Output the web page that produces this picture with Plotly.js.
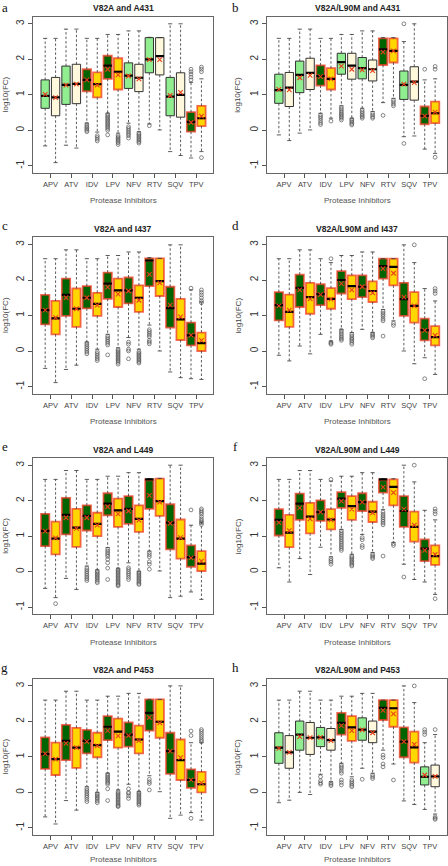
<!DOCTYPE html>
<html><head><meta charset="utf-8">
<script src="https://cdn.plot.ly/plotly-3.0.1.min.js"></script>
<style>html,body{margin:0;padding:0;background:#fff}#chart{width:448px;height:866px}</style>
</head><body><div id="chart"></div>
<script>
// ---------------- DATA ----------------
const drugs = ['APV','ATV','IDV','LPV','NFV','RTV','SQV','TPV'];
const panelLetters = ['a','b','c','d','e','f','g','h'];
const panelTitles = ['V82A and A431','V82A/L90M and A431','V82A and I437','V82A/L90M and I437',
                     'V82A and L449','V82A/L90M and L449','V82A and P453','V82A/L90M and P453'];
// 1 = significant (dark green / gold with red border), 0 = light green / cornsilk
const signif = [
  [0,0,1,1,0,0,0,1],
  [0,0,1,0,0,1,0,1],
  [1,1,1,1,1,1,1,1],
  [1,1,1,1,1,1,1,1],
  [1,1,1,1,1,1,1,1],
  [1,1,1,1,1,1,1,1],
  [1,1,1,1,1,1,1,1],
  [0,0,0,1,0,1,1,0]
];
// 16 boxes per panel: APV(1,2), ATV(1,2), ... TPV(1,2)
const lowerWhisker = [
  [-0.44,-0.91,-0.42,-0.50,0.20,-0.05,0.48,-0.08,0.20,-0.04,0.18,0.01,-0.60,-0.71,-0.78,-0.60],
  [-0.13,-0.29,-0.08,0.01,0.48,0.34,0.69,0.34,0.62,0.53,0.78,0.90,-0.18,-0.16,-0.53,-0.65],
  [-0.49,-0.89,-0.52,-0.40,0.25,0.05,0.47,0.09,0.38,0.05,0.73,0.00,-0.59,-0.75,-0.78,-0.80],
  [-0.12,-0.28,0.14,-0.08,0.47,0.28,0.61,0.52,0.61,0.52,1.17,0.85,0.00,-0.36,-0.19,-0.66],
  [-0.47,-0.73,-0.19,-0.50,0.16,0.05,0.68,0.08,0.25,0.00,0.58,0.02,-0.73,-0.69,-0.57,-0.78],
  [0.11,-0.29,0.37,-0.08,0.69,0.42,1.19,0.49,1.05,0.54,1.75,0.82,0.21,-0.22,-0.29,-0.64],
  [-0.69,-0.89,-0.23,-0.50,0.16,0.00,0.54,0.07,0.23,0.02,0.47,0.02,-0.73,-0.64,-0.57,-0.78],
  [-0.29,-0.22,0.00,-0.06,0.51,0.30,0.82,0.44,0.68,0.54,1.19,0.80,-0.24,-0.34,-0.48,-0.61]
];
const q1 = [
  [0.62,0.41,0.73,0.75,1.10,0.93,1.45,1.15,1.18,1.09,1.62,1.56,0.41,0.37,-0.04,0.12],
  [0.76,0.67,1.06,1.15,1.26,1.15,1.58,1.44,1.45,1.39,1.84,1.91,0.87,0.85,0.17,0.20],
  [0.75,0.47,0.99,0.68,1.20,0.99,1.47,1.24,1.34,1.10,1.83,1.55,0.66,0.31,0.16,0.00],
  [0.86,0.68,1.24,1.05,1.29,1.19,1.62,1.46,1.52,1.38,2.04,1.85,0.99,0.80,0.30,0.16],
  [0.72,0.49,1.05,0.70,1.16,1.00,1.59,1.26,1.35,1.12,1.77,1.57,0.63,0.37,0.14,0.02],
  [1.02,0.69,1.46,1.08,1.43,1.19,1.80,1.46,1.71,1.40,2.23,1.87,1.26,0.85,0.30,0.19],
  [0.66,0.49,0.91,0.69,1.10,0.99,1.47,1.26,1.29,1.10,1.74,1.54,0.52,0.35,0.13,0.00],
  [0.82,0.68,1.19,1.07,1.29,1.19,1.63,1.45,1.47,1.40,2.04,1.85,0.99,0.84,0.21,0.16]
];
const median = [
  [0.97,0.93,1.28,1.31,1.42,1.30,1.82,1.65,1.54,1.48,2.00,2.09,0.95,1.00,0.24,0.34],
  [1.13,1.20,1.56,1.62,1.53,1.45,1.92,1.82,1.75,1.72,2.28,2.24,1.28,1.37,0.41,0.48],
  [1.15,0.92,1.58,1.19,1.50,1.33,1.90,1.71,1.71,1.50,2.55,1.97,1.21,0.89,0.44,0.22],
  [1.29,1.10,1.78,1.52,1.60,1.47,2.00,1.83,1.81,1.69,2.39,2.37,1.46,1.27,0.59,0.39],
  [1.15,0.93,1.60,1.24,1.57,1.35,1.92,1.73,1.77,1.49,2.60,1.99,1.38,0.93,0.41,0.23],
  [1.46,1.10,1.92,1.55,1.68,1.47,2.06,1.85,1.96,1.69,2.60,2.39,1.71,1.26,0.65,0.44],
  [1.08,0.94,1.45,1.26,1.45,1.33,1.85,1.71,1.63,1.49,2.24,1.99,1.16,0.91,0.35,0.23],
  [1.26,1.13,1.63,1.54,1.55,1.47,1.96,1.83,1.77,1.71,2.38,2.37,1.43,1.27,0.44,0.45]
];
const q3 = [
  [1.42,1.49,1.81,1.86,1.72,1.63,2.10,2.03,1.90,1.86,2.61,2.61,1.49,1.62,0.51,0.69],
  [1.58,1.63,1.95,2.03,1.83,1.75,2.17,2.17,2.05,1.98,2.59,2.59,1.67,1.79,0.67,0.81],
  [1.58,1.41,2.04,1.76,1.83,1.64,2.21,2.04,2.07,1.85,2.61,2.61,1.81,1.47,0.80,0.52],
  [1.66,1.59,2.15,1.92,1.88,1.77,2.25,2.13,2.13,1.96,2.60,2.60,1.92,1.66,0.91,0.70],
  [1.63,1.41,2.08,1.77,1.87,1.66,2.21,2.06,2.13,1.87,2.60,2.62,1.90,1.47,0.74,0.58],
  [1.76,1.60,2.20,1.94,2.01,1.76,2.24,2.13,2.21,1.97,2.60,2.60,2.13,1.69,0.91,0.74],
  [1.55,1.40,1.90,1.82,1.76,1.68,2.15,2.08,1.97,1.88,2.62,2.62,1.68,1.49,0.65,0.58],
  [1.68,1.60,2.01,1.97,1.83,1.80,2.24,2.15,2.10,2.01,2.60,2.60,1.83,1.71,0.72,0.77]
];
const upperWhisker = [
  [2.59,2.59,2.85,2.85,2.59,2.59,2.70,2.70,2.80,2.80,2.62,2.61,3.00,3.00,1.35,1.45],
  [2.59,2.59,2.85,2.85,2.59,2.59,2.70,2.70,2.80,2.80,2.61,2.61,2.50,3.00,1.42,1.45],
  [2.60,2.60,2.85,2.85,2.60,2.60,2.69,2.69,2.79,2.79,2.63,2.61,2.99,2.99,1.72,1.38],
  [2.60,2.60,2.85,2.85,2.60,2.49,2.69,2.69,2.79,2.79,2.60,2.60,2.99,2.49,1.76,1.41],
  [2.60,2.60,2.85,2.85,2.60,2.60,2.69,2.69,2.79,2.79,2.62,2.63,3.00,3.00,1.31,1.40],
  [2.60,2.60,2.85,2.85,2.60,2.55,2.69,2.69,2.79,2.79,2.62,2.62,3.00,2.53,1.73,1.46],
  [2.60,2.60,2.85,2.85,2.60,2.60,2.71,2.71,2.79,2.79,2.62,2.62,3.00,3.00,1.40,1.40],
  [2.60,2.60,2.85,2.85,2.60,2.60,2.71,2.71,2.79,2.79,2.60,2.60,3.00,2.53,1.40,1.63]
];
const meanVal = [
  [1.01,0.92,1.27,1.30,1.42,1.27,1.72,1.56,1.53,1.45,1.99,1.99,0.98,1.07,0.22,0.40],
  [1.15,1.14,1.48,1.55,1.51,1.45,1.81,1.72,1.70,1.68,2.20,2.24,1.30,1.34,0.40,0.51],
  [1.15,0.94,1.50,1.19,1.50,1.29,1.80,1.60,1.69,1.43,2.16,1.92,1.29,0.96,0.45,0.30],
  [1.27,1.15,1.72,1.47,1.59,1.46,1.90,1.72,1.81,1.64,2.32,2.19,1.52,1.27,0.58,0.44],
  [1.14,0.95,1.52,1.22,1.52,1.31,1.83,1.63,1.71,1.45,2.15,1.96,1.36,0.96,0.39,0.30],
  [1.38,1.16,1.80,1.49,1.68,1.46,1.99,1.76,1.96,1.66,2.38,2.23,1.76,1.31,0.60,0.49],
  [1.09,0.94,1.38,1.26,1.43,1.31,1.74,1.59,1.60,1.46,2.11,1.96,1.16,0.98,0.35,0.27],
  [1.24,1.13,1.57,1.54,1.55,1.46,1.88,1.74,1.76,1.68,2.31,2.21,1.43,1.35,0.49,0.45]
];
const outliers = [
  [[],[],[],[],[0.17,0.12,0.08,0.04,0.0,-0.04],[-0.15,-0.2,-0.25,-0.3],
   [0.45,0.41,0.37,0.33,0.29,0.25,0.21,0.17,0.13,0.09,0.05,0.0,-0.13],[-0.15,-0.19,-0.23,-0.27,-0.31,-0.35,-0.4],
   [0.1,0.05,0.0,-0.05,-0.1,-0.15,-0.22],[-0.08,-0.12,-0.16,-0.2,-0.24,-0.28,-0.32,-0.36],
   [0.13],[],[],[],[1.42,1.5,1.58,1.65,1.72],[1.65,1.72,1.78,-0.77]],
  [[],[],[],[],[0.43,0.38,0.33,0.27,0.21,0.16],[0.26],
   [0.65,0.6,0.55,0.5,0.46,0.42,0.38,0.34,0.29],[0.31,0.27,0.23,0.19,0.15],
   [0.57,0.52,0.47,0.42,0.38,0.34],[0.48,0.43,0.38,0.34],
   [0.42],[0.85,0.8,0.74,0.69],[3.0,-0.37],[],[1.72],[1.8,1.72,-0.76]],
  [[],[],[],[],[0.22,0.17,0.12,0.07,0.02,-0.03,-0.08],[-0.02,-0.07,-0.12,-0.17,-0.22,-0.27],
   [0.42,0.37,0.32,0.27,0.22,0.17,-0.11],[0.04,0.0,-0.04,-0.08,-0.12,-0.16,-0.2,-0.24,-0.28,-0.32,-0.37],
   [0.25,0.19,0.05,0.0,-0.22],[-0.02,-0.06,-0.1,-0.14,-0.18,-0.22,-0.26,-0.3,-0.34],
   [0.6,0.55,0.5,0.45,0.4,0.3,0.25,0.2],[],[],[],[1.77],[1.72,1.65,1.58,1.5,1.42,1.36]],
  [[],[],[],[],[],[2.6,0.25,0.22,0.19],
   [0.58,0.53,0.48,0.43,0.38,0.34,0.3],[0.47,0.42,0.37,0.33,0.29,0.24,0.19],
   [],[0.49,0.45,0.41,0.37],
   [1.12,1.07,1.02,0.97,0.9,0.85,0.42],[0.78,0.72],[],[2.99],[-0.78],[1.76,1.69,1.62]],
  [[],[-0.9],[],[],[0.1,0.05,0.0,-0.05,-0.1,-0.15,-0.2,-0.25],[0.02,-0.02,-0.06,-0.1,-0.14,-0.18,-0.22,-0.27,-0.31],
   [0.63,0.58,0.53,0.48,0.43,0.35,0.25,0.1,-0.22],[0.07,0.03,-0.01,-0.05,-0.09,-0.13,-0.17,-0.21,-0.25,-0.29,-0.33,-0.37,-0.4],
   [0.11,0.06,0.0,-0.05,-0.1,-0.16,-0.22],[-0.01,-0.05,-0.09,-0.13,-0.17,-0.21,-0.25,-0.29,-0.33,-0.36],
   [0.54,0.48,0.42,0.28,0.21,0.07],[],[],[],[1.74],[1.77,1.72,1.67,1.62,1.55,1.48,1.43,1.38,1.33]],
  [[],[],[],[],[],[2.6,0.37,0.32,0.27,0.21],
   [1.15,1.1,1.05,1.0,0.95,0.9,0.85,0.8,0.75,0.7,0.65,0.6],[0.44,0.4,0.36,0.32,0.28,0.24,0.2,0.16],
   [0.96,0.9,0.74,0.68],[0.49,0.45,0.41,0.37],
   [1.68,1.62,1.57,1.52,1.47,1.42,1.37,1.32,0.44],[0.79,0.74],[-0.15],[3.0],[],[1.77,1.7,1.63,-0.76]],
  [[],[],[],[],[0.11,0.06,0.01,-0.04,-0.09,-0.14,-0.2,-0.26],[-0.03,-0.07,-0.11,-0.15,-0.19,-0.24,-0.29],
   [0.51,0.47,0.43,0.39,0.35,0.31,0.27,0.23,0.1,-0.23],[0.02,-0.02,-0.06,-0.1,-0.14,-0.18,-0.22,-0.26,-0.3,-0.34,-0.38,-0.4],
   [0.1,0.0,-0.03,-0.1,-0.17],[0.0,-0.04,-0.08,-0.12,-0.16,-0.2,-0.24,-0.28,-0.32,-0.36],
   [0.37,0.3,0.25,0.07],[],[],[],[1.73,1.6,-0.73],[1.77,1.72,1.66,1.6,1.54,1.48,1.43]],
  [[],[],[],[],[0.44,0.33,0.27,0.23],[0.27,0.23,0.19],
   [0.77,0.72,0.67,0.6,0.54,0.35,0.28,0.21],[0.35,0.3,0.25,0.2,0.16],
   [0.37],[0.49,0.44,0.39],
   [1.05,0.98,0.8,0.72],[0.35],[],[3.0],[1.77,1.7,1.63],[1.77,-0.69,-0.73,-0.76]]
];

// ---------------- STYLE / LAYOUT CONSTANTS ----------------
const W = 448, H = 866;
const colLeft = [33.3, 267], colRight = [213.3, 447];
const rowZero = [130.3, 351.0, 571.7, 792.4];
const pxPerUnit = 35.5;
const yRange = [-1.2, 3.2];
const xRange = [-0.14, 17.14];
const fillNS = ['#90EE90', '#FFF8DC'];
const fillS = ['#006400', '#FFD700'];
const sigLine = 'rgba(240,64,40,0.78)';
const FONT = 'Liberation Sans, Arial, Helvetica, sans-serif';

const traces = [];
const annotations = [];
const layout = {
  width: W, height: H, margin: {l:0, r:0, t:0, b:0},
  paper_bgcolor: '#fff', plot_bgcolor: '#fff', showlegend: false,
  boxmode: 'overlay', font: {family: FONT, color: '#333'},
  annotations: annotations
};

for (let p = 0; p < 8; p++) {
  const col = p % 2, row = Math.floor(p / 2);
  const sfx = p === 0 ? '' : String(p + 1);
  const xa = 'x' + sfx, ya = 'y' + sfx;
  const left = colLeft[col], right = colRight[col];
  const top = rowZero[row] - yRange[1] * pxPerUnit;
  const bottom = rowZero[row] - yRange[0] * pxPerUnit;

  layout['xaxis' + sfx] = {
    domain: [left / W, right / W], anchor: ya, range: xRange,
    tickmode: 'array', tickvals: drugs.map((d, i) => 2 * i + 1.5), ticktext: drugs,
    ticks: 'outside', ticklen: 4, tickwidth: 1, tickcolor: '#555', tickangle: 0,
    tickfont: {size: 7.5, color: '#444', family: FONT},
    showline: true, mirror: true, linecolor: '#666', linewidth: 1,
    showgrid: false, zeroline: false, fixedrange: true
  };
  layout['yaxis' + sfx] = {
    domain: [1 - bottom / H, 1 - top / H], anchor: xa, range: yRange,
    tickmode: 'array', tickvals: [-1, 0, 1, 2, 3], ticktext: ['-1', '0', '1', '2', '3'],
    ticks: 'outside', ticklen: 4, tickwidth: 1, tickcolor: '#555', tickangle: -90,
    tickfont: {size: 10, color: '#333', family: FONT},
    showline: true, mirror: true, linecolor: '#666', linewidth: 1,
    showgrid: false, zeroline: false, fixedrange: true
  };

  // boxes grouped by fill style
  const groups = {};
  for (let k = 0; k < 16; k++) {
    const d = Math.floor(k / 2), second = k % 2;
    const s = signif[p][d];
    const key = s + '_' + second;
    if (!groups[key]) groups[key] = {s: s, second: second, x: [], q1: [], med: [], q3: []};
    const g = groups[key];
    g.x.push(k + 1); g.q1.push(q1[p][k]); g.med.push(median[p][k]); g.q3.push(q3[p][k]);
  }
  Object.values(groups).forEach(g => {
    traces.push({
      type: 'box', orientation: 'v', xaxis: xa, yaxis: ya,
      x: g.x, q1: g.q1, median: g.med, q3: g.q3,
      lowerfence: g.q1, upperfence: g.q3,
      width: 0.8, whiskerwidth: 0, boxpoints: false,
      fillcolor: g.s ? fillS[g.second] : fillNS[g.second],
      line: {color: g.s ? sigLine : '#333', width: g.s ? 1.8 : 1},
      hoverinfo: 'skip'
    });
  });

  // dashed whiskers, staples, medians, means, outliers
  const wx = [], wy = [], sx = [], sy = [], mx = [], my = [], ox = [], oy = [], ex = [], ey = [];
  for (let k = 0; k < 16; k++) {
    const pos = k + 1;
    wx.push(pos, pos, null, pos, pos, null);
    wy.push(q3[p][k], upperWhisker[p][k], null, q1[p][k], lowerWhisker[p][k], null);
    sx.push(pos - 0.2, pos + 0.2, null, pos - 0.2, pos + 0.2, null);
    sy.push(upperWhisker[p][k], upperWhisker[p][k], null, lowerWhisker[p][k], lowerWhisker[p][k], null);
    mx.push(pos - 0.4, pos + 0.4, null);
    my.push(median[p][k], median[p][k], null);
    ex.push(pos); ey.push(meanVal[p][k]);
    outliers[p][k].forEach(v => { ox.push(pos); oy.push(v); });
  }
  traces.push({type: 'scatter', mode: 'lines', xaxis: xa, yaxis: ya, x: wx, y: wy,
    line: {color: '#333', width: 0.8, dash: '2.5px,2px'}, hoverinfo: 'skip'});
  traces.push({type: 'scatter', mode: 'lines', xaxis: xa, yaxis: ya, x: sx, y: sy,
    line: {color: '#333', width: 0.8}, hoverinfo: 'skip'});
  traces.push({type: 'scatter', mode: 'lines', xaxis: xa, yaxis: ya, x: mx, y: my,
    line: {color: '#000', width: 2.2}, hoverinfo: 'skip'});
  traces.push({type: 'scatter', mode: 'markers', xaxis: xa, yaxis: ya, x: ox, y: oy,
    marker: {symbol: 'circle-open', size: 3.8, color: '#555', line: {width: 0.7, color: '#555'}}, hoverinfo: 'skip'});
  traces.push({type: 'scatter', mode: 'markers', xaxis: xa, yaxis: ya, x: ex, y: ey,
    marker: {symbol: 'x-thin', size: 4.5, line: {width: 1.1, color: '#E8401C'}}, hoverinfo: 'skip'});

  const cx = (left + right) / 2;
  annotations.push({text: '<b>' + panelTitles[p] + '</b>', xref: 'paper', yref: 'paper',
    x: cx / W, y: 1 - (top - 8.6) / H, xanchor: 'center', yanchor: 'middle', showarrow: false,
    font: {size: 8.5, color: '#222', family: FONT}});
  annotations.push({text: panelLetters[p], xref: 'paper', yref: 'paper',
    x: (col === 0 ? 4.5 : 235) / W, y: 1 - Math.max(top - 11.5, 8) / H, xanchor: 'center', yanchor: 'middle', showarrow: false,
    font: {size: 13, color: '#111', family: 'Liberation Serif, Times New Roman, serif'}});
  annotations.push({text: 'Protease Inhibitors', xref: 'paper', yref: 'paper',
    x: cx / W, y: 1 - Math.min(bottom + 28, 859) / H, xanchor: 'center', yanchor: 'middle', showarrow: false,
    font: {size: 8, color: '#555', family: FONT}});
  annotations.push({text: 'log10(FC)', xref: 'paper', yref: 'paper', textangle: -90,
    x: (col === 0 ? 5.5 : 238) / W, y: 1 - ((top + bottom) / 2) / H, xanchor: 'center', yanchor: 'middle', showarrow: false,
    font: {size: 8, color: '#444', family: FONT}});
}

Plotly.newPlot('chart', traces, layout, {staticPlot: true, displayModeBar: false});
</script>
</body></html>
